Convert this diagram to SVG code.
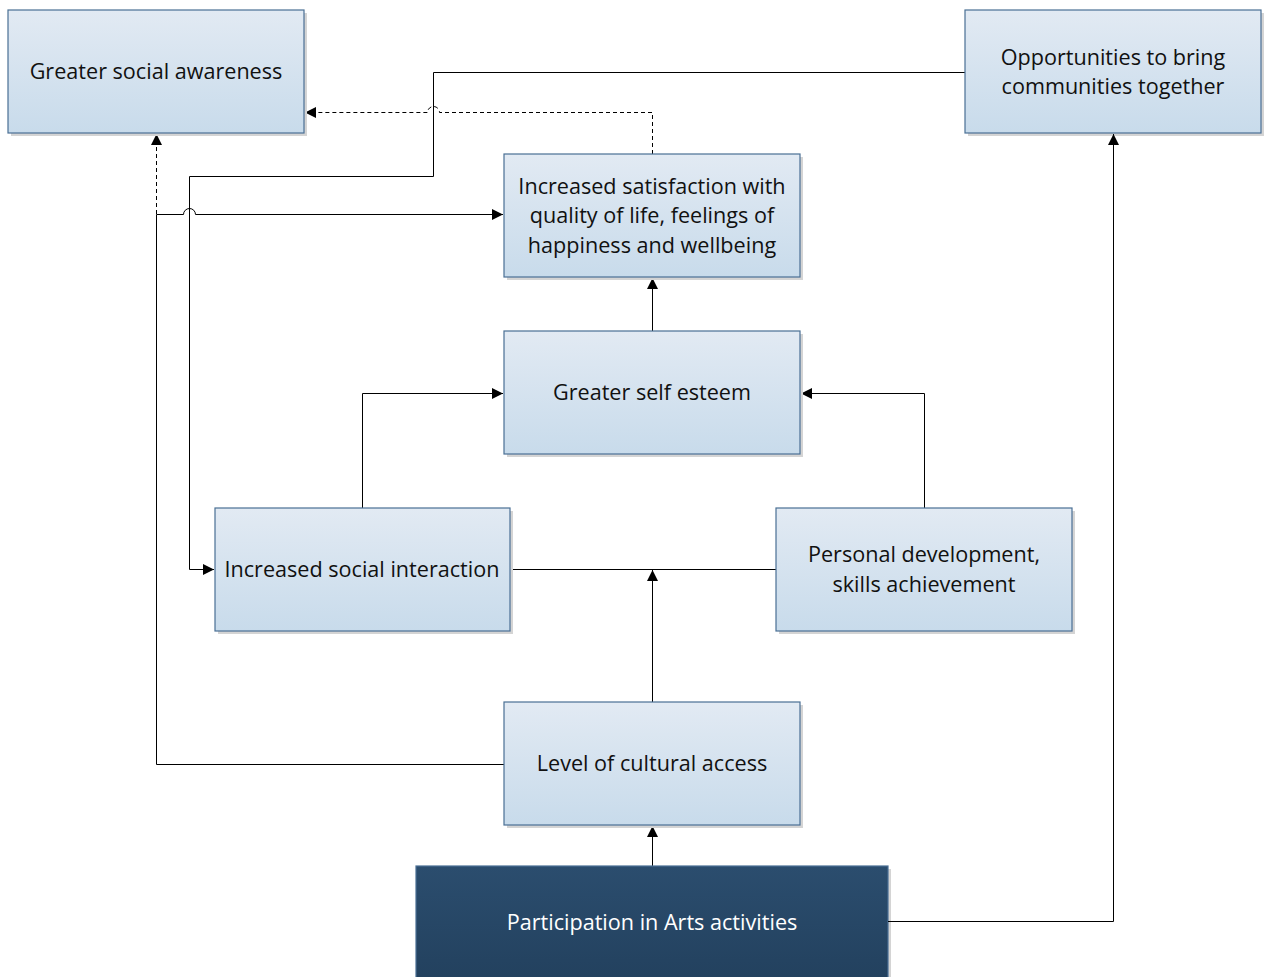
<svg xmlns="http://www.w3.org/2000/svg" width="1264" height="977" viewBox="0 0 1264 977">
<style>
.box{fill:url(#lg);stroke:#4a6f94;stroke-width:1.2}
.dark{fill:url(#dg);stroke:#4a6f94;stroke-width:1.2}
.sh{fill:#d4d4d4}
.t{font-family:"Open Sans","Liberation Sans",sans-serif;font-size:21.6px;fill:#111;text-anchor:middle;dominant-baseline:central}
.tw{font-family:"Open Sans","Liberation Sans",sans-serif;font-size:21.6px;fill:#fff;text-anchor:middle;dominant-baseline:central}
.c{fill:none;stroke:#000;stroke-width:1}
.d{fill:none;stroke:#000;stroke-width:1;stroke-dasharray:4 3}
</style>
<defs>
<linearGradient id="lg" x1="0" y1="0" x2="0" y2="1"><stop offset="0" stop-color="#e2eaf3"/><stop offset="1" stop-color="#c8dbeb"/></linearGradient>
<linearGradient id="dg" x1="0" y1="0" x2="0" y2="1"><stop offset="0" stop-color="#2b4d6e"/><stop offset="1" stop-color="#22405d"/></linearGradient>
<marker id="a" viewBox="0 0 10 10" refX="10" refY="5" markerWidth="11" markerHeight="11" markerUnits="userSpaceOnUse" orient="auto"><path d="M0,0 L10,5 L0,10 z" fill="#000"/></marker>
</defs>
<rect width="1264" height="977" fill="#fff"/>
<g id="connectors">
<path class="c" d="M652.5,866 V826" marker-end="url(#a)"/>
<path class="c" d="M652.5,702 V570" marker-end="url(#a)"/>
<path class="c" d="M510,569.5 H776"/>
<path class="c" d="M362.5,508 V393.5 H503" marker-end="url(#a)"/>
<path class="c" d="M924.5,508 V393.5 H801" marker-end="url(#a)"/>
<path class="c" d="M652.5,331 V278" marker-end="url(#a)"/>
<path class="d" d="M652.5,154 V112.5 H439.5 A6,6 0 0 0 427.5,112.5 H305" marker-end="url(#a)"/>
<path class="c" d="M965,72.5 H433.5 V176.5 H189.5 V569.5 H214" marker-end="url(#a)"/>
<path class="c" d="M504,764.5 H156.5 V214.5 H183.5 A6,6 0 0 1 195.5,214.5 H503" marker-end="url(#a)"/>
<path class="d" d="M156.5,214 V134" marker-end="url(#a)"/>
</g>
<g id="n1"><rect class="sh" x="11" y="13" width="296" height="123"/><rect class="box" x="8" y="10" width="296" height="123"/><text class="t" x="156" y="70">Greater social awareness</text></g>
<g id="n2"><rect class="sh" x="968" y="13" width="296" height="123"/><rect class="box" x="965" y="10" width="296" height="123"/><text class="t" x="1113" y="56">Opportunities to bring</text><text class="t" x="1113" y="85">communities together</text></g>
<g id="n3"><rect class="sh" x="507" y="157" width="296" height="123"/><rect class="box" x="504" y="154" width="296" height="123"/><text class="t" x="652" y="185">Increased satisfaction with</text><text class="t" x="652" y="214.5">quality of life, feelings of</text><text class="t" x="652" y="244">happiness and wellbeing</text></g>
<g id="n4"><rect class="sh" x="507" y="334" width="296" height="123"/><rect class="box" x="504" y="331" width="296" height="123"/><text class="t" x="652" y="391">Greater self esteem</text></g>
<g id="n5"><rect class="sh" x="218" y="511" width="295" height="123"/><rect class="box" x="215" y="508" width="295" height="123"/><text class="t" x="362" y="568">Increased social interaction</text></g>
<g id="n6"><rect class="sh" x="779" y="511" width="296" height="123"/><rect class="box" x="776" y="508" width="296" height="123"/><text class="t" x="924" y="553">Personal development,</text><text class="t" x="924" y="583">skills achievement</text></g>
<g id="n7"><rect class="sh" x="507" y="705" width="296" height="123"/><rect class="box" x="504" y="702" width="296" height="123"/><text class="t" x="652" y="762">Level of cultural access</text></g>
<g id="n8"><rect class="sh" x="419" y="869" width="472" height="123"/><rect class="dark" x="416" y="866" width="472" height="123"/><text class="tw" x="652" y="921">Participation in Arts activities</text></g>
<path class="c" d="M888,921.5 H1113.5 V134" marker-end="url(#a)"/>
</svg>
